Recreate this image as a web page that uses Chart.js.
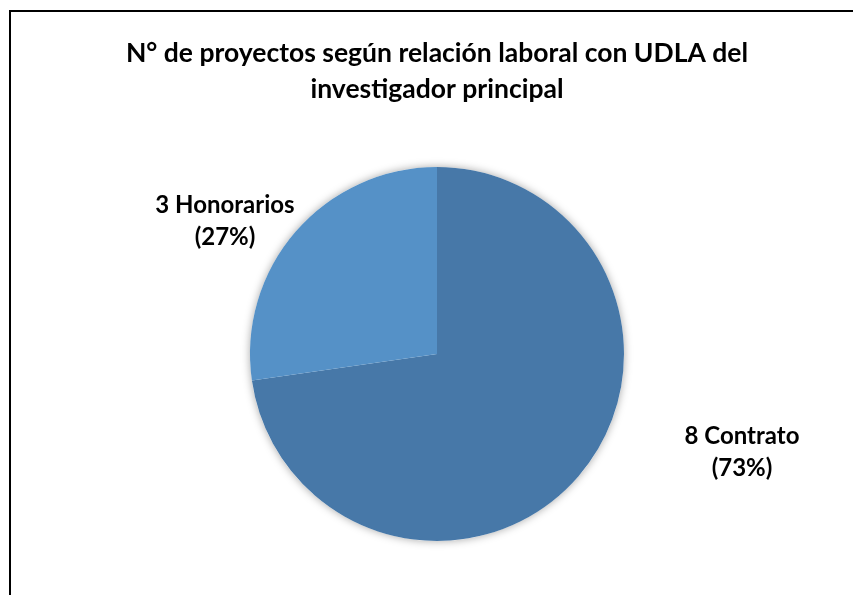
<!DOCTYPE html>
<html>
<head>
<meta charset="utf-8">
<script src="https://cdn.jsdelivr.net/npm/chart.js@4"></script>
<style>
  html, body { margin: 0; padding: 0; background: #fff; }
  #wrap { position: relative; width: 853px; height: 595px; overflow: hidden; }
  #frame { position: absolute; left: 9px; top: 10px; width: 900px; height: 700px; border: 2.5px solid #000; box-sizing: border-box; pointer-events: none; }
  canvas { position: absolute; left: 0; top: 0; }
</style>
</head>
<body>
<div id="wrap">
  <canvas id="c" width="853" height="595"></canvas>
  <div id="frame"></div>
</div>
<script>
const titleLines = ['N° de proyectos según relación laboral con UDLA del', 'investigador principal'];
const categories = ['Contrato', 'Honorarios'];
const values = [8, 3];
const percents = ['73%', '27%'];
const colors = ['#4778A8', '#5591C7'];

const labelPlugin = {
  id: 'sliceLabels',
  beforeDatasetsDraw(chart) {
    const ctx = chart.ctx;
    ctx.save();
    ctx.shadowColor = 'rgba(0,0,0,0.35)';
    ctx.shadowBlur = 8;
    ctx.shadowOffsetX = 0;
    ctx.shadowOffsetY = 0;
    const arc = chart.getDatasetMeta(0).data[0];
    ctx.beginPath();
    ctx.arc(arc.x, arc.y, arc.outerRadius, 0, Math.PI * 2);
    ctx.fillStyle = '#ffffff';
    ctx.fill();
    ctx.restore();
  },
  afterDatasetsDraw(chart, args, opts) {
    const ctx = chart.ctx;
    const meta = chart.getDatasetMeta(0);
    ctx.save();
    ctx.font = 'bold 24px Lato, "Open Sans", sans-serif';
    ctx.fillStyle = '#000';
    ctx.textAlign = 'center';
    ctx.textBaseline = 'middle';
    meta.data.forEach((a, i) => {
      const off = opts.offsets[i];
      const x = a.x + off[0];
      const y = a.y + off[1];
      ctx.fillText(values[i] + ' ' + categories[i], x, y);
      ctx.fillText('(' + percents[i] + ')', x, y + 32);
    });
    ctx.restore();
  }
};

new Chart(document.getElementById('c'), {
  type: 'pie',
  data: {
    labels: categories,
    datasets: [{
      data: values,
      backgroundColor: colors,
      borderWidth: 0,
      hoverOffset: 0
    }]
  },
  options: {
    responsive: false,
    animation: false,
    layout: { padding: { left: 21, right: 0, top: 0, bottom: 54 } },
    plugins: {
      legend: { display: false },
      tooltip: { enabled: false },
      title: {
        display: true,
        text: titleLines,
        color: '#000',
        font: { family: 'Lato, "Open Sans", sans-serif', size: 26.5, weight: 'bold', lineHeight: 36 / 26.5 },
        padding: { top: 35, bottom: 60 }
      },
      sliceLabels: { offsets: [[305, 82], [-212, -149]] }
    }
  },
  plugins: [labelPlugin]
});
</script>
</body>
</html>
